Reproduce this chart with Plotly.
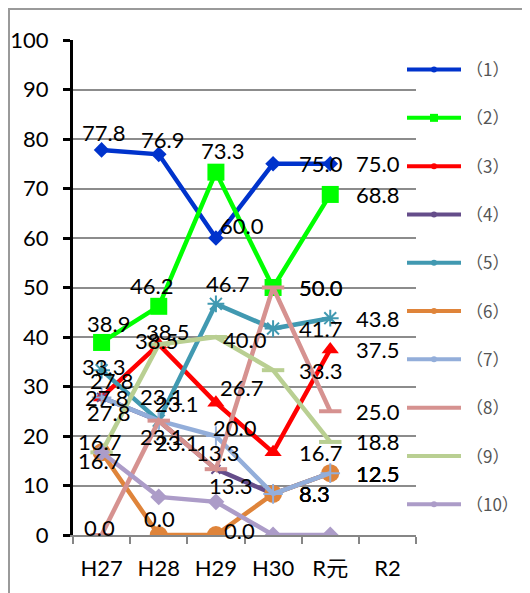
import plotly.graph_objects as go

categories = ["H27", "H28", "H29", "H30", "R元", "R2"]
series_names = ["（1）", "（2）", "（3）", "（4）", "（5）", "（6）", "（7）", "（8）", "（9）", "（10）"]

s1 = [77.8, 76.9, 60.0, 75.0, 75.0, None]
s2 = [38.9, 46.2, 73.3, 50.0, 68.8, None]
s3 = [27.8, 38.5, 26.7, 16.7, 37.5, None]
s4 = [27.8, 23.1, 13.3, 8.3, 12.5, None]
s5 = [33.3, 23.1, 46.7, 41.7, 43.8, None]
s6 = [16.7, 0.0, 0.0, 8.3, 12.5, None]
s7 = [27.8, 23.1, 20.0, 8.3, 12.5, None]
s8 = [0.0, 23.1, 13.3, 50.0, 25.0, None]
s9 = [16.7, 38.5, 40.0, 33.3, 18.8, None]
s10 = [16.7, 7.7, 6.7, 0.0, 0.0, None]
series_values = [s1, s2, s3, s4, s5, s6, s7, s8, s9, s10]

# styles
colors = ["#0033CC", "#00FF00", "#FF0000", "#654D8A", "#4199B1",
          "#DF843A", "#93AEDA", "#D69290", "#B9CF92", "#AC9CC8"]
symbols = ["diamond", "square", "triangle-up", "x-thin-open", "asterisk-open",
           "circle", "cross-thin-open", "line-ew-open", "line-ew-open", "diamond"]
msizes = [12, 17, 15, 9, 14, 18, 14, 16, 16, 13]
mline = [0, 0, 0, 2, 2, 0, 2, 4, 4, 0]
legend_marker = [True, True, True, True, True, True, True, False, False, True]

# label placement per point: (xanchor, dx, dy) in px, dy positive = down; None = no label
R = ("left", 24, 0)
label_pos = [
    [("center", 2, -17), ("center", 4, -15), ("center", 26, -13), R, R],
    [("center", 7, -19), ("center", -7, -21), ("center", 7, -22), R, R],
    [("center", 10, -17), ("center", 9, -13), ("center", 26, -15), R, R],
    [("center", 5, 0), ("center", 3, 16), ("center", 15, 16), R, R],
    [("center", 2, -4), ("center", 3, -24), ("center", 12, -20), R, R],
    [("center", -2, 8), ("center", 1, -17), ("center", 24, -5), R, R],
    [("center", 7, 15), ("center", 18, -17), ("center", 19, -9), R, R],
    [("center", -2, -8), ("center", 18, 22), ("center", 2, -17), R, R],
    [("center", -2, -11), ("center", -2, -4), ("center", 29, 2), R, R],
    [None, None, None, None, None],
]

FONT = "Lato, 'Noto Sans CJK JP', sans-serif"

fig = go.Figure()
for i, vals in enumerate(series_values):
    fig.add_trace(go.Scatter(
        x=categories, y=vals, mode="lines+markers", showlegend=False,
        line=dict(color=colors[i], width=4.5),
        marker=dict(symbol=symbols[i], size=msizes[i], color=colors[i],
                    line=dict(color=colors[i], width=mline[i])),
        hoverinfo="skip",
    ))

# legend entries
for i, name in enumerate(series_names):
    fig.add_trace(go.Scatter(
        x=[None], y=[None], name=name, legendgroup=str(i),
        mode="lines+markers" if legend_marker[i] else "lines",
        line=dict(color=colors[i], width=4),
        marker=dict(symbol="circle" if symbols[i] != "square" else "square",
                    size=6 if symbols[i] != "square" else 8, color=colors[i]),
    ))

annotations = []
for i, vals in enumerate(series_values):
    for j, v in enumerate(vals):
        if v is None or j >= len(label_pos[i]) or label_pos[i][j] is None:
            continue
        xa, dx, dy = label_pos[i][j]
        annotations.append(dict(
            x=categories[j], y=v, xref="x", yref="y", text=f"{v:.1f}",
            showarrow=False, xanchor=xa, yanchor="middle",
            xshift=dx, yshift=-dy,
            font=dict(family=FONT, size=22, color="#000000"),
        ))

W, H = 522, 585
L, T, PW, PH = 65, 32, 343, 495

fig.update_layout(
    width=W, height=H,
    margin=dict(l=L, r=W - L - PW, t=T, b=H - T - PH, autoexpand=False),
    paper_bgcolor="white", plot_bgcolor="white",
    font=dict(family=FONT, size=22, color="#000000"),
    annotations=annotations,
    showlegend=True,
    legend=dict(
        x=1.0 - 14 / PW, xanchor="left", y=1.0 - 12 / PH, yanchor="top",
        font=dict(family="'Noto Sans CJK JP', sans-serif", size=17, color="#555555"),
        traceorder="grouped", tracegroupgap=23.2, itemwidth=54,
        bgcolor="rgba(0,0,0,0)",
    ),
    shapes=[dict(type="rect", xref="paper", yref="paper",
                 x0=(1 - L) / PW, x1=(W + 5 - L) / PW,
                 y0=-(H + 5 - T - PH) / PH, y1=1 + (T - 1) / PH,
                 line=dict(color="#9A9A9A", width=2), fillcolor="rgba(0,0,0,0)", layer="below")],
)

fig.update_xaxes(
    type="category", categoryorder="array", categoryarray=categories,
    range=[-0.5, 5.5], showgrid=False, zeroline=False,
    showline=True, linecolor="#868686", linewidth=1.5,
    ticks="outside", tickson="boundaries", ticklen=7, tickwidth=1.5, tickcolor="#868686",
    tickfont=dict(family=FONT, size=22, color="#000000"),
    ticklabelstandoff=13,
    fixedrange=True,
)
fig.update_yaxes(
    range=[0, 100], dtick=10, showgrid=True, gridcolor="#8C8C8C", gridwidth=1.5,
    zeroline=False, showline=True, linecolor="#000000", linewidth=3,
    ticks="outside", ticklen=7, tickwidth=3, tickcolor="#000000",
    tickfont=dict(family=FONT, size=22, color="#000000"),
    ticklabelstandoff=10,
    fixedrange=True,
)

fig.write_html("out.html")
